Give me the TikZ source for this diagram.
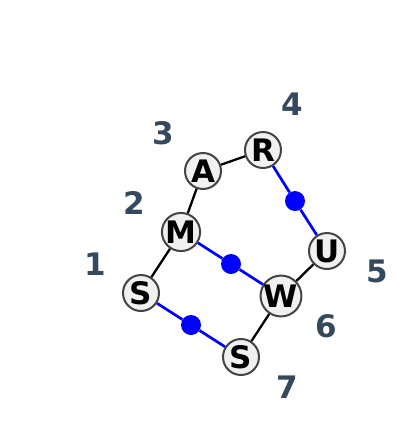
\documentclass[tikz,border=0pt]{standalone}
\usepackage{fontspec}
\setmainfont{DejaVu Sans}
\definecolor{nodefill}{HTML}{F0F0F0}
\definecolor{nodeline}{HTML}{444444}
\definecolor{numcol}{HTML}{34495E}
\definecolor{blueline}{HTML}{0000FF}
\begin{document}
\begin{tikzpicture}[x=1pt,y=-1pt,
  letter/.style={circle,draw=nodeline,line width=2pt,fill=nodefill,minimum size=36pt,inner sep=0pt,
     font=\fontsize{31}{31}\selectfont\bfseries},
  num/.style={text=numcol,font=\fontsize{31}{31}\selectfont\bfseries},
  dot/.style={circle,fill=blueline,minimum size=20pt,inner sep=0pt},
  blk/.style={draw=black,line width=2.3pt},
  blu/.style={draw=blueline,line width=2.7pt}]
\useasboundingbox (0,0) rectangle (400,440);
\node[letter] (s1) at (141,293) {S};
\node[letter] (m) at (181,232) {M};
\node[letter] (a) at (203,171) {A};
\node[letter] (r) at (263,150) {R};
\node[letter] (u) at (327,251) {U};
\node[letter] (w) at (281,296) {W};
\node[letter] (s7) at (241,357) {S};
\node[dot] (d1) at (295,201) {};
\node[dot] (d2) at (231,264) {};
\node[dot] (d3) at (191,325) {};
\node[num] (n1) at (95,264) {1};
\node[num] (n2) at (134,203) {2};
\node[num] (n3) at (163,133) {3};
\node[num] (n4) at (292,104) {4};
\node[num] (n5) at (377,271) {5};
\node[num] (n6) at (326,326) {6};
\node[num] (n7) at (287,387) {7};
\draw[blk] (s1) -- (m);
\draw[blk] (m) -- (a);
\draw[blk] (a) -- (r);
\draw[blk] (u) -- (w);
\draw[blk] (w) -- (s7);
\draw[blu] (r) -- (d1) -- (u);
\draw[blu] (m) -- (d2) -- (w);
\draw[blu] (s1) -- (d3) -- (s7);
\end{tikzpicture}
\end{document}
